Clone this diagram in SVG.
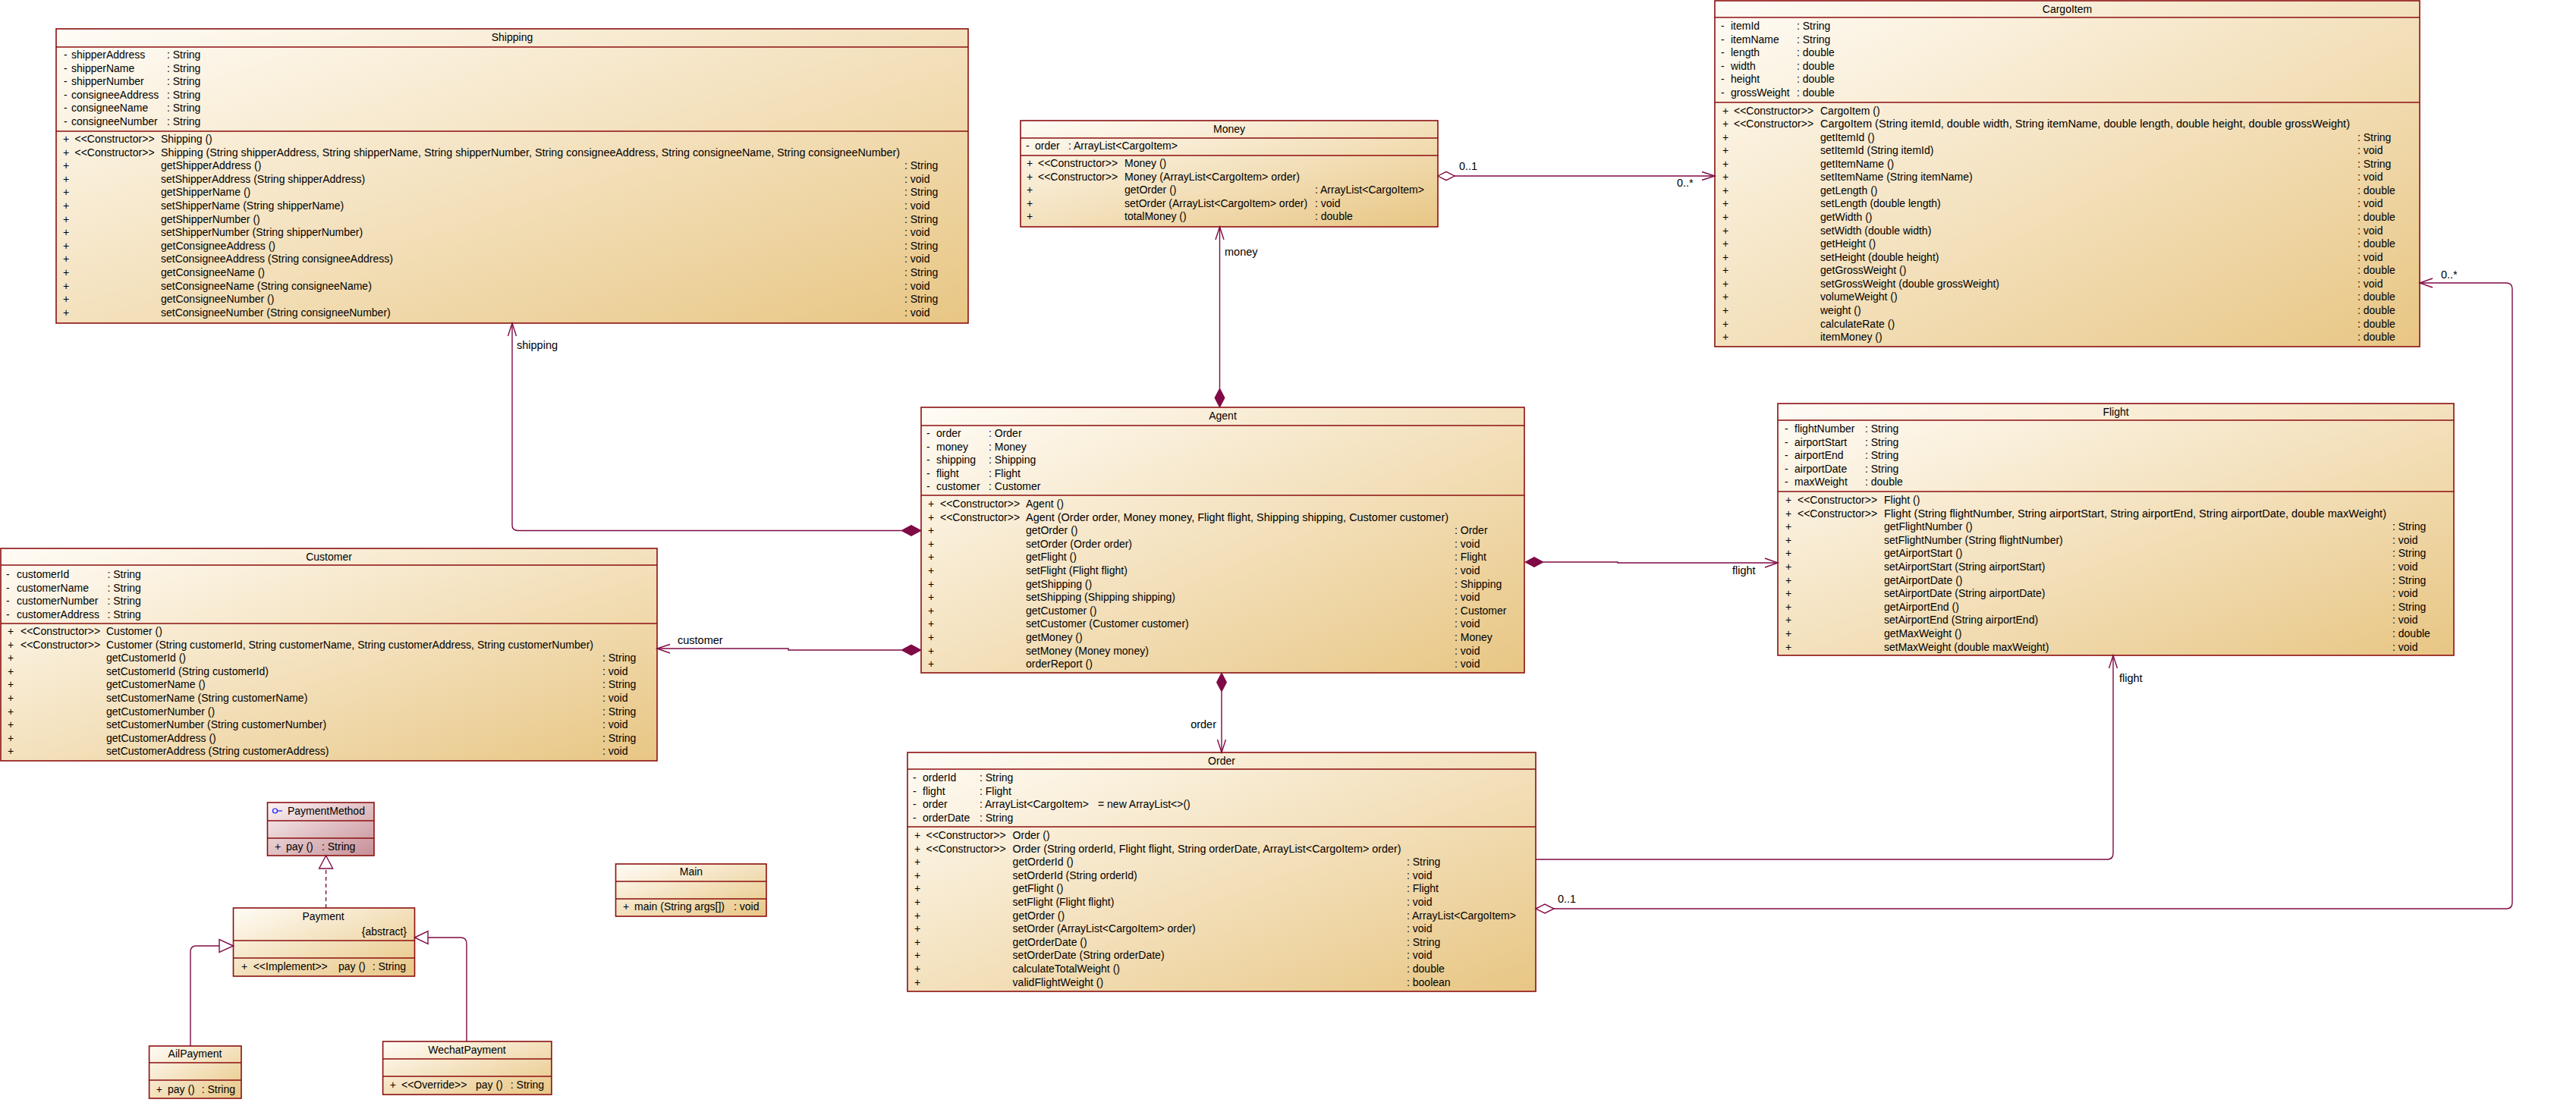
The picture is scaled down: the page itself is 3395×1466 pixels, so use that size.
<svg xmlns="http://www.w3.org/2000/svg" width="3395" height="1466" viewBox="0 0 3395 1466">
<defs>
<linearGradient id="gc" x1="0" y1="0" x2="1" y2="1">
<stop offset="0" stop-color="#fffcf6"/>
<stop offset="1" stop-color="#e8c684"/>
</linearGradient>
<linearGradient id="gi" x1="0" y1="0" x2="1" y2="1">
<stop offset="0" stop-color="#fbf3f4"/>
<stop offset="1" stop-color="#c68f96"/>
</linearGradient>
</defs>
<style>
.box{fill:url(#gc);stroke:#8c0f0f;stroke-width:1.6}
.ibox{fill:url(#gi);stroke:#8c0f0f;stroke-width:1.6}
.sep{fill:none;stroke:#8c0f0f;stroke-width:1.6}
text{font-family:"Liberation Sans",Arial,sans-serif;font-size:14px;fill:#000}
.ttl{text-anchor:middle}
.lbl{font-size:14.5px}
.ln{fill:none;stroke:#7f0a45;stroke-width:1.4}
.fd{fill:#7f0a45;stroke:#7f0a45;stroke-width:1}
.hd{fill:#fff;stroke:#7f0a45;stroke-width:1.4}
</style>
<rect width="3395" height="1466" fill="#fff"/>

<g id="Shipping">
<rect class="box" x="74" y="38" width="1202" height="388"/>
<path class="sep" d="M74 62H1276M74 173H1276"/>
<text class="ttl" x="675" y="54">Shipping</text>
<text><tspan x="84" y="77">-</tspan><tspan x="84" dy="17.6">-</tspan><tspan x="84" dy="17.6">-</tspan><tspan x="84" dy="17.6">-</tspan><tspan x="84" dy="17.6">-</tspan><tspan x="84" dy="17.6">-</tspan></text>
<text><tspan x="94" y="77">shipperAddress</tspan><tspan x="94" dy="17.6">shipperName</tspan><tspan x="94" dy="17.6">shipperNumber</tspan><tspan x="94" dy="17.6">consigneeAddress</tspan><tspan x="94" dy="17.6">consigneeName</tspan><tspan x="94" dy="17.6">consigneeNumber</tspan></text>
<text><tspan x="220" y="77">: String</tspan><tspan x="220" dy="17.6">: String</tspan><tspan x="220" dy="17.6">: String</tspan><tspan x="220" dy="17.6">: String</tspan><tspan x="220" dy="17.6">: String</tspan><tspan x="220" dy="17.6">: String</tspan></text>
<text><tspan x="83" y="188">+</tspan><tspan x="83" dy="17.6">+</tspan><tspan x="83" dy="17.6">+</tspan><tspan x="83" dy="17.6">+</tspan><tspan x="83" dy="17.6">+</tspan><tspan x="83" dy="17.6">+</tspan><tspan x="83" dy="17.6">+</tspan><tspan x="83" dy="17.6">+</tspan><tspan x="83" dy="17.6">+</tspan><tspan x="83" dy="17.6">+</tspan><tspan x="83" dy="17.6">+</tspan><tspan x="83" dy="17.6">+</tspan><tspan x="83" dy="17.6">+</tspan><tspan x="83" dy="17.6">+</tspan></text>
<text><tspan x="98.5" y="188">&lt;&lt;Constructor&gt;&gt;</tspan><tspan x="98.5" dy="17.6">&lt;&lt;Constructor&gt;&gt;</tspan></text>
<text x="212" y="188">Shipping ()</text>
<text x="212" y="205.6" textLength="974" lengthAdjust="spacingAndGlyphs">Shipping (String shipperAddress, String shipperName, String shipperNumber, String consigneeAddress, String consigneeName, String consigneeNumber)</text>
<text><tspan x="212" y="223.2">getShipperAddress ()</tspan><tspan x="212" dy="17.6">setShipperAddress (String shipperAddress)</tspan><tspan x="212" dy="17.6">getShipperName ()</tspan><tspan x="212" dy="17.6">setShipperName (String shipperName)</tspan><tspan x="212" dy="17.6">getShipperNumber ()</tspan><tspan x="212" dy="17.6">setShipperNumber (String shipperNumber)</tspan><tspan x="212" dy="17.6">getConsigneeAddress ()</tspan><tspan x="212" dy="17.6">setConsigneeAddress (String consigneeAddress)</tspan><tspan x="212" dy="17.6">getConsigneeName ()</tspan><tspan x="212" dy="17.6">setConsigneeName (String consigneeName)</tspan><tspan x="212" dy="17.6">getConsigneeNumber ()</tspan><tspan x="212" dy="17.6">setConsigneeNumber (String consigneeNumber)</tspan></text>
<text><tspan x="1192" y="223.2">: String</tspan><tspan x="1192" dy="17.6">: void</tspan><tspan x="1192" dy="17.6">: String</tspan><tspan x="1192" dy="17.6">: void</tspan><tspan x="1192" dy="17.6">: String</tspan><tspan x="1192" dy="17.6">: void</tspan><tspan x="1192" dy="17.6">: String</tspan><tspan x="1192" dy="17.6">: void</tspan><tspan x="1192" dy="17.6">: String</tspan><tspan x="1192" dy="17.6">: void</tspan><tspan x="1192" dy="17.6">: String</tspan><tspan x="1192" dy="17.6">: void</tspan></text>
</g>

<g id="Money">
<rect class="box" x="1345" y="159" width="550" height="140"/>
<path class="sep" d="M1345 182H1895M1345 205H1895"/>
<text class="ttl" x="1620" y="175">Money</text>
<text x="1352" y="197">-</text>
<text x="1364" y="197">order</text>
<text x="1408" y="197">: ArrayList&lt;CargoItem&gt;</text>
<text><tspan x="1353" y="220">+</tspan><tspan x="1353" dy="17.6">+</tspan><tspan x="1353" dy="17.6">+</tspan><tspan x="1353" dy="17.6">+</tspan><tspan x="1353" dy="17.6">+</tspan></text>
<text><tspan x="1368" y="220">&lt;&lt;Constructor&gt;&gt;</tspan><tspan x="1368" dy="17.6">&lt;&lt;Constructor&gt;&gt;</tspan></text>
<text x="1482" y="220">Money ()</text>
<text x="1482" y="237.6" textLength="231" lengthAdjust="spacingAndGlyphs">Money (ArrayList&lt;CargoItem&gt; order)</text>
<text><tspan x="1482" y="255.2">getOrder ()</tspan><tspan x="1482" dy="17.6">setOrder (ArrayList&lt;CargoItem&gt; order)</tspan><tspan x="1482" dy="17.6">totalMoney ()</tspan></text>
<text><tspan x="1733" y="255.2">: ArrayList&lt;CargoItem&gt;</tspan><tspan x="1733" dy="17.6">: void</tspan><tspan x="1733" dy="17.6">: double</tspan></text>
</g>

<g id="CargoItem">
<rect class="box" x="2260" y="1" width="929" height="456"/>
<path class="sep" d="M2260 23H3189M2260 135H3189"/>
<text class="ttl" x="2724.5" y="17">CargoItem</text>
<text><tspan x="2268" y="39">-</tspan><tspan x="2268" dy="17.6">-</tspan><tspan x="2268" dy="17.6">-</tspan><tspan x="2268" dy="17.6">-</tspan><tspan x="2268" dy="17.6">-</tspan><tspan x="2268" dy="17.6">-</tspan></text>
<text><tspan x="2281" y="39">itemId</tspan><tspan x="2281" dy="17.6">itemName</tspan><tspan x="2281" dy="17.6">length</tspan><tspan x="2281" dy="17.6">width</tspan><tspan x="2281" dy="17.6">height</tspan><tspan x="2281" dy="17.6">grossWeight</tspan></text>
<text><tspan x="2368" y="39">: String</tspan><tspan x="2368" dy="17.6">: String</tspan><tspan x="2368" dy="17.6">: double</tspan><tspan x="2368" dy="17.6">: double</tspan><tspan x="2368" dy="17.6">: double</tspan><tspan x="2368" dy="17.6">: double</tspan></text>
<text><tspan x="2270" y="150.5">+</tspan><tspan x="2270" dy="17.57">+</tspan><tspan x="2270" dy="17.57">+</tspan><tspan x="2270" dy="17.57">+</tspan><tspan x="2270" dy="17.57">+</tspan><tspan x="2270" dy="17.57">+</tspan><tspan x="2270" dy="17.57">+</tspan><tspan x="2270" dy="17.57">+</tspan><tspan x="2270" dy="17.57">+</tspan><tspan x="2270" dy="17.57">+</tspan><tspan x="2270" dy="17.57">+</tspan><tspan x="2270" dy="17.57">+</tspan><tspan x="2270" dy="17.57">+</tspan><tspan x="2270" dy="17.57">+</tspan><tspan x="2270" dy="17.57">+</tspan><tspan x="2270" dy="17.57">+</tspan><tspan x="2270" dy="17.57">+</tspan><tspan x="2270" dy="17.57">+</tspan></text>
<text><tspan x="2285" y="150.5">&lt;&lt;Constructor&gt;&gt;</tspan><tspan x="2285" dy="17.57">&lt;&lt;Constructor&gt;&gt;</tspan></text>
<text x="2399" y="150.5">CargoItem ()</text>
<text x="2399" y="168.07" textLength="698" lengthAdjust="spacingAndGlyphs">CargoItem (String itemId, double width, String itemName, double length, double height, double grossWeight)</text>
<text><tspan x="2399" y="185.64">getItemId ()</tspan><tspan x="2399" dy="17.57">setItemId (String itemId)</tspan><tspan x="2399" dy="17.57">getItemName ()</tspan><tspan x="2399" dy="17.57">setItemName (String itemName)</tspan><tspan x="2399" dy="17.57">getLength ()</tspan><tspan x="2399" dy="17.57">setLength (double length)</tspan><tspan x="2399" dy="17.57">getWidth ()</tspan><tspan x="2399" dy="17.57">setWidth (double width)</tspan><tspan x="2399" dy="17.57">getHeight ()</tspan><tspan x="2399" dy="17.57">setHeight (double height)</tspan><tspan x="2399" dy="17.57">getGrossWeight ()</tspan><tspan x="2399" dy="17.57">setGrossWeight (double grossWeight)</tspan><tspan x="2399" dy="17.57">volumeWeight ()</tspan><tspan x="2399" dy="17.57">weight ()</tspan><tspan x="2399" dy="17.57">calculateRate ()</tspan><tspan x="2399" dy="17.57">itemMoney ()</tspan></text>
<text><tspan x="3107" y="185.64">: String</tspan><tspan x="3107" dy="17.57">: void</tspan><tspan x="3107" dy="17.57">: String</tspan><tspan x="3107" dy="17.57">: void</tspan><tspan x="3107" dy="17.57">: double</tspan><tspan x="3107" dy="17.57">: void</tspan><tspan x="3107" dy="17.57">: double</tspan><tspan x="3107" dy="17.57">: void</tspan><tspan x="3107" dy="17.57">: double</tspan><tspan x="3107" dy="17.57">: void</tspan><tspan x="3107" dy="17.57">: double</tspan><tspan x="3107" dy="17.57">: void</tspan><tspan x="3107" dy="17.57">: double</tspan><tspan x="3107" dy="17.57">: double</tspan><tspan x="3107" dy="17.57">: double</tspan><tspan x="3107" dy="17.57">: double</tspan></text>
</g>

<g id="Agent">
<rect class="box" x="1214" y="537" width="795" height="350"/>
<path class="sep" d="M1214 561H2009M1214 653H2009"/>
<text class="ttl" x="1611.5" y="553">Agent</text>
<text><tspan x="1221" y="576">-</tspan><tspan x="1221" dy="17.6">-</tspan><tspan x="1221" dy="17.6">-</tspan><tspan x="1221" dy="17.6">-</tspan><tspan x="1221" dy="17.6">-</tspan></text>
<text><tspan x="1234" y="576">order</tspan><tspan x="1234" dy="17.6">money</tspan><tspan x="1234" dy="17.6">shipping</tspan><tspan x="1234" dy="17.6">flight</tspan><tspan x="1234" dy="17.6">customer</tspan></text>
<text><tspan x="1303" y="576">: Order</tspan><tspan x="1303" dy="17.6">: Money</tspan><tspan x="1303" dy="17.6">: Shipping</tspan><tspan x="1303" dy="17.6">: Flight</tspan><tspan x="1303" dy="17.6">: Customer</tspan></text>
<text><tspan x="1223" y="669">+</tspan><tspan x="1223" dy="17.6">+</tspan><tspan x="1223" dy="17.6">+</tspan><tspan x="1223" dy="17.6">+</tspan><tspan x="1223" dy="17.6">+</tspan><tspan x="1223" dy="17.6">+</tspan><tspan x="1223" dy="17.6">+</tspan><tspan x="1223" dy="17.6">+</tspan><tspan x="1223" dy="17.6">+</tspan><tspan x="1223" dy="17.6">+</tspan><tspan x="1223" dy="17.6">+</tspan><tspan x="1223" dy="17.6">+</tspan><tspan x="1223" dy="17.6">+</tspan></text>
<text><tspan x="1239" y="669">&lt;&lt;Constructor&gt;&gt;</tspan><tspan x="1239" dy="17.6">&lt;&lt;Constructor&gt;&gt;</tspan></text>
<text x="1352" y="669">Agent ()</text>
<text x="1352" y="686.6" textLength="557" lengthAdjust="spacingAndGlyphs">Agent (Order order, Money money, Flight flight, Shipping shipping, Customer customer)</text>
<text><tspan x="1352" y="704.2">getOrder ()</tspan><tspan x="1352" dy="17.6">setOrder (Order order)</tspan><tspan x="1352" dy="17.6">getFlight ()</tspan><tspan x="1352" dy="17.6">setFlight (Flight flight)</tspan><tspan x="1352" dy="17.6">getShipping ()</tspan><tspan x="1352" dy="17.6">setShipping (Shipping shipping)</tspan><tspan x="1352" dy="17.6">getCustomer ()</tspan><tspan x="1352" dy="17.6">setCustomer (Customer customer)</tspan><tspan x="1352" dy="17.6">getMoney ()</tspan><tspan x="1352" dy="17.6">setMoney (Money money)</tspan><tspan x="1352" dy="17.6">orderReport ()</tspan></text>
<text><tspan x="1917" y="704.2">: Order</tspan><tspan x="1917" dy="17.6">: void</tspan><tspan x="1917" dy="17.6">: Flight</tspan><tspan x="1917" dy="17.6">: void</tspan><tspan x="1917" dy="17.6">: Shipping</tspan><tspan x="1917" dy="17.6">: void</tspan><tspan x="1917" dy="17.6">: Customer</tspan><tspan x="1917" dy="17.6">: void</tspan><tspan x="1917" dy="17.6">: Money</tspan><tspan x="1917" dy="17.6">: void</tspan><tspan x="1917" dy="17.6">: void</tspan></text>
</g>

<g id="Flight">
<rect class="box" x="2343" y="532" width="891" height="332"/>
<path class="sep" d="M2343 554H3234M2343 648H3234"/>
<text class="ttl" x="2788.5" y="548">Flight</text>
<text><tspan x="2352" y="570">-</tspan><tspan x="2352" dy="17.6">-</tspan><tspan x="2352" dy="17.6">-</tspan><tspan x="2352" dy="17.6">-</tspan><tspan x="2352" dy="17.6">-</tspan></text>
<text><tspan x="2365" y="570">flightNumber</tspan><tspan x="2365" dy="17.6">airportStart</tspan><tspan x="2365" dy="17.6">airportEnd</tspan><tspan x="2365" dy="17.6">airportDate</tspan><tspan x="2365" dy="17.6">maxWeight</tspan></text>
<text><tspan x="2458" y="570">: String</tspan><tspan x="2458" dy="17.6">: String</tspan><tspan x="2458" dy="17.6">: String</tspan><tspan x="2458" dy="17.6">: String</tspan><tspan x="2458" dy="17.6">: double</tspan></text>
<text><tspan x="2353" y="664">+</tspan><tspan x="2353" dy="17.6">+</tspan><tspan x="2353" dy="17.6">+</tspan><tspan x="2353" dy="17.6">+</tspan><tspan x="2353" dy="17.6">+</tspan><tspan x="2353" dy="17.6">+</tspan><tspan x="2353" dy="17.6">+</tspan><tspan x="2353" dy="17.6">+</tspan><tspan x="2353" dy="17.6">+</tspan><tspan x="2353" dy="17.6">+</tspan><tspan x="2353" dy="17.6">+</tspan><tspan x="2353" dy="17.6">+</tspan></text>
<text><tspan x="2369" y="664">&lt;&lt;Constructor&gt;&gt;</tspan><tspan x="2369" dy="17.6">&lt;&lt;Constructor&gt;&gt;</tspan></text>
<text x="2483" y="664">Flight ()</text>
<text x="2483" y="681.6" textLength="662" lengthAdjust="spacingAndGlyphs">Flight (String flightNumber, String airportStart, String airportEnd, String airportDate, double maxWeight)</text>
<text><tspan x="2483" y="699.2">getFlightNumber ()</tspan><tspan x="2483" dy="17.6">setFlightNumber (String flightNumber)</tspan><tspan x="2483" dy="17.6">getAirportStart ()</tspan><tspan x="2483" dy="17.6">setAirportStart (String airportStart)</tspan><tspan x="2483" dy="17.6">getAirportDate ()</tspan><tspan x="2483" dy="17.6">setAirportDate (String airportDate)</tspan><tspan x="2483" dy="17.6">getAirportEnd ()</tspan><tspan x="2483" dy="17.6">setAirportEnd (String airportEnd)</tspan><tspan x="2483" dy="17.6">getMaxWeight ()</tspan><tspan x="2483" dy="17.6">setMaxWeight (double maxWeight)</tspan></text>
<text><tspan x="3153" y="699.2">: String</tspan><tspan x="3153" dy="17.6">: void</tspan><tspan x="3153" dy="17.6">: String</tspan><tspan x="3153" dy="17.6">: void</tspan><tspan x="3153" dy="17.6">: String</tspan><tspan x="3153" dy="17.6">: void</tspan><tspan x="3153" dy="17.6">: String</tspan><tspan x="3153" dy="17.6">: void</tspan><tspan x="3153" dy="17.6">: double</tspan><tspan x="3153" dy="17.6">: void</tspan></text>
</g>

<g id="Customer">
<rect class="box" x="1" y="723" width="865" height="280"/>
<path class="sep" d="M1 745H866M1 822H866"/>
<text class="ttl" x="433.5" y="739">Customer</text>
<text><tspan x="8" y="762">-</tspan><tspan x="8" dy="17.6">-</tspan><tspan x="8" dy="17.6">-</tspan><tspan x="8" dy="17.6">-</tspan></text>
<text><tspan x="22" y="762">customerId</tspan><tspan x="22" dy="17.6">customerName</tspan><tspan x="22" dy="17.6">customerNumber</tspan><tspan x="22" dy="17.6">customerAddress</tspan></text>
<text><tspan x="141.5" y="762">: String</tspan><tspan x="141.5" dy="17.6">: String</tspan><tspan x="141.5" dy="17.6">: String</tspan><tspan x="141.5" dy="17.6">: String</tspan></text>
<text><tspan x="10" y="837">+</tspan><tspan x="10" dy="17.6">+</tspan><tspan x="10" dy="17.6">+</tspan><tspan x="10" dy="17.6">+</tspan><tspan x="10" dy="17.6">+</tspan><tspan x="10" dy="17.6">+</tspan><tspan x="10" dy="17.6">+</tspan><tspan x="10" dy="17.6">+</tspan><tspan x="10" dy="17.6">+</tspan><tspan x="10" dy="17.6">+</tspan></text>
<text><tspan x="27" y="837">&lt;&lt;Constructor&gt;&gt;</tspan><tspan x="27" dy="17.6">&lt;&lt;Constructor&gt;&gt;</tspan></text>
<text x="140" y="837">Customer ()</text>
<text x="140" y="854.6" textLength="642" lengthAdjust="spacingAndGlyphs">Customer (String customerId, String customerName, String customerAddress, String customerNumber)</text>
<text><tspan x="140" y="872.2">getCustomerId ()</tspan><tspan x="140" dy="17.6">setCustomerId (String customerId)</tspan><tspan x="140" dy="17.6">getCustomerName ()</tspan><tspan x="140" dy="17.6">setCustomerName (String customerName)</tspan><tspan x="140" dy="17.6">getCustomerNumber ()</tspan><tspan x="140" dy="17.6">setCustomerNumber (String customerNumber)</tspan><tspan x="140" dy="17.6">getCustomerAddress ()</tspan><tspan x="140" dy="17.6">setCustomerAddress (String customerAddress)</tspan></text>
<text><tspan x="794" y="872.2">: String</tspan><tspan x="794" dy="17.6">: void</tspan><tspan x="794" dy="17.6">: String</tspan><tspan x="794" dy="17.6">: void</tspan><tspan x="794" dy="17.6">: String</tspan><tspan x="794" dy="17.6">: void</tspan><tspan x="794" dy="17.6">: String</tspan><tspan x="794" dy="17.6">: void</tspan></text>
</g>

<g id="Order">
<rect class="box" x="1196" y="992" width="828" height="315"/>
<path class="sep" d="M1196 1014H2024M1196 1090H2024"/>
<text class="ttl" x="1610" y="1008">Order</text>
<text><tspan x="1203" y="1030">-</tspan><tspan x="1203" dy="17.6">-</tspan><tspan x="1203" dy="17.6">-</tspan><tspan x="1203" dy="17.6">-</tspan></text>
<text><tspan x="1216" y="1030">orderId</tspan><tspan x="1216" dy="17.6">flight</tspan><tspan x="1216" dy="17.6">order</tspan><tspan x="1216" dy="17.6">orderDate</tspan></text>
<text><tspan x="1291" y="1030">: String</tspan><tspan x="1291" dy="17.6">: Flight</tspan><tspan x="1291" dy="17.6">: ArrayList&lt;CargoItem&gt;</tspan><tspan x="1291" dy="17.6">: String</tspan></text>
<text x="1447" y="1065.2">= new ArrayList&lt;&gt;()</text>
<text><tspan x="1205" y="1106">+</tspan><tspan x="1205" dy="17.6">+</tspan><tspan x="1205" dy="17.6">+</tspan><tspan x="1205" dy="17.6">+</tspan><tspan x="1205" dy="17.6">+</tspan><tspan x="1205" dy="17.6">+</tspan><tspan x="1205" dy="17.6">+</tspan><tspan x="1205" dy="17.6">+</tspan><tspan x="1205" dy="17.6">+</tspan><tspan x="1205" dy="17.6">+</tspan><tspan x="1205" dy="17.6">+</tspan><tspan x="1205" dy="17.6">+</tspan></text>
<text><tspan x="1220.5" y="1106">&lt;&lt;Constructor&gt;&gt;</tspan><tspan x="1220.5" dy="17.6">&lt;&lt;Constructor&gt;&gt;</tspan></text>
<text x="1334.6" y="1106">Order ()</text>
<text x="1334.6" y="1123.6" textLength="512" lengthAdjust="spacingAndGlyphs">Order (String orderId, Flight flight, String orderDate, ArrayList&lt;CargoItem&gt; order)</text>
<text><tspan x="1334.6" y="1141.2">getOrderId ()</tspan><tspan x="1334.6" dy="17.6">setOrderId (String orderId)</tspan><tspan x="1334.6" dy="17.6">getFlight ()</tspan><tspan x="1334.6" dy="17.6">setFlight (Flight flight)</tspan><tspan x="1334.6" dy="17.6">getOrder ()</tspan><tspan x="1334.6" dy="17.6">setOrder (ArrayList&lt;CargoItem&gt; order)</tspan><tspan x="1334.6" dy="17.6">getOrderDate ()</tspan><tspan x="1334.6" dy="17.6">setOrderDate (String orderDate)</tspan><tspan x="1334.6" dy="17.6">calculateTotalWeight ()</tspan><tspan x="1334.6" dy="17.6">validFlightWeight ()</tspan></text>
<text><tspan x="1854" y="1141.2">: String</tspan><tspan x="1854" dy="17.6">: void</tspan><tspan x="1854" dy="17.6">: Flight</tspan><tspan x="1854" dy="17.6">: void</tspan><tspan x="1854" dy="17.6">: ArrayList&lt;CargoItem&gt;</tspan><tspan x="1854" dy="17.6">: void</tspan><tspan x="1854" dy="17.6">: String</tspan><tspan x="1854" dy="17.6">: void</tspan><tspan x="1854" dy="17.6">: double</tspan><tspan x="1854" dy="17.6">: boolean</tspan></text>
</g>

<g id="PaymentMethod">
<rect class="ibox" x="352.5" y="1058" width="140.5" height="70"/>
<path class="sep" d="M352.5 1082H493M352.5 1105H493"/>
<circle cx="362.5" cy="1069" r="3" fill="none" stroke="#1a1aff" stroke-width="1.2"/>
<path d="M365.5 1069H372" stroke="#1a1aff" stroke-width="1.2"/>
<text x="379" y="1074">PaymentMethod</text>
<text x="362" y="1121">+</text>
<text x="377" y="1121">pay ()</text>
<text x="424" y="1121">: String</text>
</g>

<g id="Payment">
<rect class="box" x="307.5" y="1197" width="239" height="90"/>
<path class="sep" d="M307.5 1240H546.5M307.5 1263H546.5"/>
<text class="ttl" x="426" y="1213">Payment</text>
<text x="536" y="1233" text-anchor="end">{abstract}</text>
<text x="318" y="1279">+</text>
<text x="333.7" y="1279">&lt;&lt;Implement&gt;&gt;</text>
<text x="446" y="1279">pay ()</text>
<text x="490.7" y="1279">: String</text>
</g>

<g id="Main">
<rect class="box" x="811.5" y="1139" width="198.5" height="69"/>
<path class="sep" d="M811.5 1162H1010M811.5 1185H1010"/>
<text class="ttl" x="911" y="1154">Main</text>
<text x="821" y="1200">+</text>
<text x="836" y="1200">main (String args[])</text>
<text x="967" y="1200">: void</text>
</g>

<g id="AilPayment">
<rect class="box" x="196.6" y="1379" width="121.4" height="69"/>
<path class="sep" d="M196.6 1401H318M196.6 1424H318"/>
<text class="ttl" x="257" y="1394">AilPayment</text>
<text x="205.7" y="1441">+</text>
<text x="221" y="1441">pay ()</text>
<text x="265.7" y="1441">: String</text>
</g>

<g id="WechatPayment">
<rect class="box" x="504.6" y="1373" width="222.3" height="70"/>
<path class="sep" d="M504.6 1396H726.9M504.6 1419H726.9"/>
<text class="ttl" x="615.5" y="1389">WechatPayment</text>
<text x="513.7" y="1435">+</text>
<text x="529" y="1435">&lt;&lt;Override&gt;&gt;</text>
<text x="627" y="1435">pay ()</text>
<text x="672.8" y="1435">: String</text>
</g>

<g id="connectors">
<path class="ln" d="M1917 232H2260"/>
<path class="hd" d="M1895 232L1906 226.3L1917 232L1906 237.7Z"/>
<path class="ln" d="M2243 226.5L2260 232L2243 237.5"/>
<text class="lbl" x="1923" y="224">0..1</text>
<text class="lbl" x="2210" y="246">0..*</text>

<path class="ln" d="M1607.5 299V512"/>
<path class="ln" d="M1602 316L1607.5 299L1613 316"/>
<path class="fd" d="M1607.5 512L1614 524.5L1607.5 537L1601 524.5Z"/>
<text class="lbl" x="1614" y="337">money</text>

<path class="ln" d="M675 426V692Q675 699.5 682.5 699.5H1188"/>
<path class="ln" d="M669.5 443L675 426L680.5 443"/>
<path class="fd" d="M1214 699.5L1201 706.5L1188 699.5L1201 692.5Z"/>
<text class="lbl" x="681" y="460">shipping</text>

<path class="ln" d="M866 855H1039V857H1188"/>
<path class="ln" d="M883 849.5L866 855L883 861"/>
<path class="fd" d="M1214 857L1201 864L1188 857L1201 850Z"/>
<text class="lbl" x="893" y="849">customer</text>

<path class="fd" d="M2010 741L2022 734.5L2034 741L2022 747.5Z"/>
<path class="ln" d="M2034 741H2132V742H2343"/>
<path class="ln" d="M2326 736L2343 742L2326 748"/>
<text class="lbl" x="2283" y="757">flight</text>

<path class="fd" d="M1610 887L1616.5 899.5L1610 912L1603.5 899.5Z"/>
<path class="ln" d="M1610 912V992"/>
<path class="ln" d="M1604.5 975L1610 992L1615.5 975"/>
<text class="lbl" x="1603" y="960" text-anchor="end">order</text>

<path class="ln" d="M2024 1133H2777Q2785 1133 2785 1125V864"/>
<path class="ln" d="M2779.5 881L2785 864L2790.5 881"/>
<text class="lbl" x="2793" y="899">flight</text>

<path class="hd" d="M2024 1198L2036 1192L2048 1198L2036 1204Z"/>
<path class="ln" d="M2048 1198H3303Q3311 1198 3311 1190V381Q3311 373 3303 373H3189"/>
<path class="ln" d="M3206 367L3189 373L3206 379"/>
<text class="lbl" x="2053" y="1190">0..1</text>
<text class="lbl" x="3217" y="367">0..*</text>

<path class="ln" stroke-dasharray="5,4" d="M429.6 1197V1145"/>
<path class="hd" d="M429.6 1128L438.6 1145H420.6Z"/>
<path class="ln" d="M251 1379V1255Q251 1247 259 1247H289"/>
<path class="hd" d="M307.5 1247L289 1238.7V1255.3Z"/>
<path class="ln" d="M615 1373V1244Q615 1236 607 1236H564"/>
<path class="hd" d="M546.4 1236L564 1227.7V1244.3Z"/>
</g>
</svg>
